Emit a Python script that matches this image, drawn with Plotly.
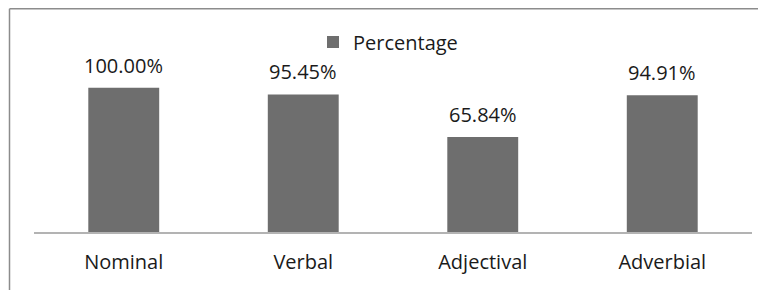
import plotly.graph_objects as go

categories = ["Nominal", "Verbal", "Adjectival", "Adverbial"]
percentages = [100.00, 95.45, 65.84, 94.91]
series_name = "Percentage"

# the page body has an 8px margin, so the figure is 8px smaller than the window
W, H = 758, 282
L, R, T, B = 26, 14, 51, 58
FONT = "Open Sans"
TXT = "#1a1a1a"
BAR = "#6e6e6e"

fig = go.Figure()
fig.add_trace(go.Bar(
    x=categories, y=percentages, name=series_name,
    marker=dict(color=BAR, line=dict(width=0)),
    width=0.395, showlegend=True,
))

for c, v in zip(categories, percentages):
    fig.add_annotation(x=c, y=v, text=f"{v:.2f}%", showarrow=False,
                       yanchor="bottom", yshift=7,
                       font=dict(family=FONT, size=20, color=TXT))

pw = W - L - R
ph = H - T - B
def px(x):
    return (x - L) / pw
def py(y):
    return (H - B - y) / ph

# outer frame (cropped at right and bottom)
fig.add_shape(type="line", xref="paper", yref="paper",
              x0=px(1.5), x1=px(W), y0=py(0.75), y1=py(0.75),
              line=dict(color="#8c8c8c", width=1.5))
fig.add_shape(type="line", xref="paper", yref="paper",
              x0=px(1.5), x1=px(1.5), y0=py(0.75), y1=py(H),
              line=dict(color="#8c8c8c", width=1.5))

fig.update_layout(
    width=W, height=H,
    margin=dict(l=L, r=R, t=T, b=B),
    paper_bgcolor="white", plot_bgcolor="white",
    font=dict(family=FONT, size=20, color=TXT),
    legend=dict(orientation="h", x=px(305), xanchor="left",
                y=py(34), yanchor="middle",
                font=dict(family=FONT, size=20, color=TXT),
                itemwidth=30, bgcolor="rgba(0,0,0,0)"),
    xaxis=dict(showgrid=False, showline=True, linecolor="#b3b3b3", linewidth=1.5,
               ticks="outside", ticklen=11, tickcolor="rgba(0,0,0,0)",
               tickfont=dict(family=FONT, size=20, color=TXT)),
    yaxis=dict(range=[0, 120], visible=False, showgrid=False, zeroline=False),
)

fig.write_html("out.html")
